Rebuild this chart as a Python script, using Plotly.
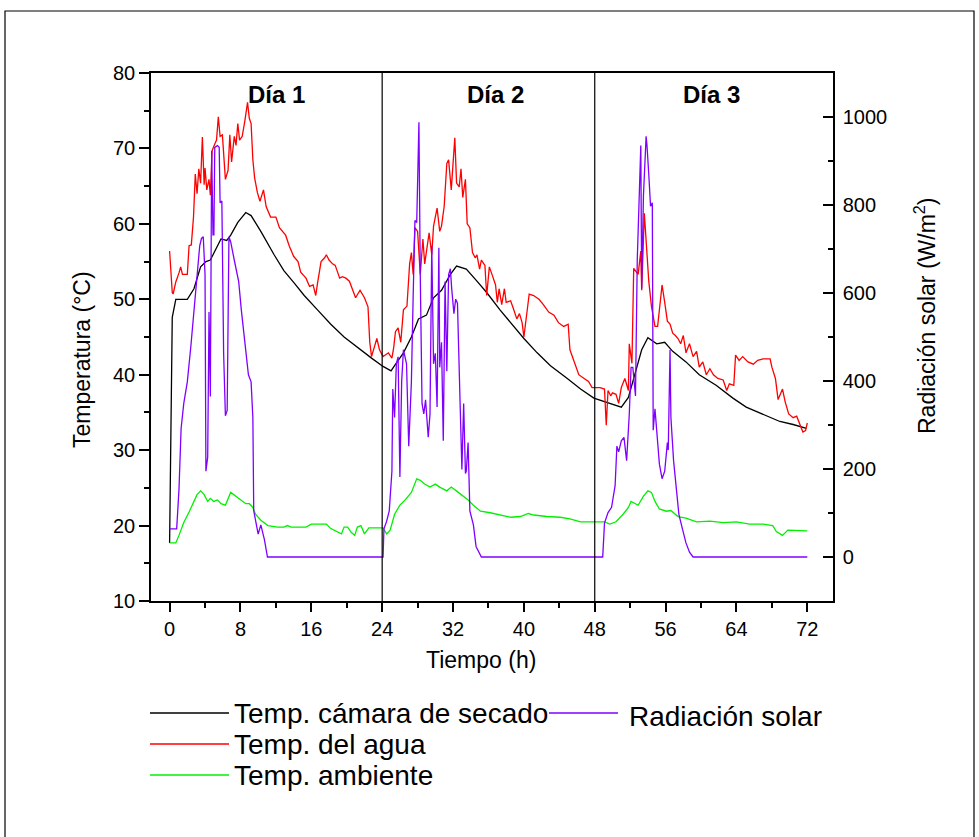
import plotly.graph_objects as go

# ---------------- data ----------------
t_camara = [0, 0.3, 0.7, 2.0, 2.75, 3.5, 4.1, 4.6, 5.2, 5.8, 6.45, 6.9, 7.7, 8.6, 9.2, 10.3, 11.8, 12.9,
            14.1, 15.2, 16.7, 18.2, 19.7, 21.2, 22.8, 24.1, 25.0, 25.4, 26.4, 27.3, 28.1, 29.0, 29.8,
            30.7, 31.7, 32.4, 33.5, 34.7, 35.8, 37.3, 38.8, 40.0, 41.5, 43.0, 44.9, 46.4, 47.9, 48.9,
            50.0, 51.0, 51.8, 52.5, 53.3, 54.0, 55.0, 55.9, 56.8, 58.3, 59.8, 61.7, 63.6, 65.1, 67.0,
            68.9, 70.4, 71.9]
camara = [17.7, 47.6, 50.0, 50.0, 51.4, 54.3, 55.0, 55.2, 56.6, 58.0, 57.8, 58.5, 60.2, 61.5, 61.1, 59.0,
          55.9, 53.8, 52.1, 50.5, 48.6, 46.7, 45.0, 43.6, 42.2, 41.1, 40.5, 41.2, 42.9, 45.0, 47.4, 47.9,
          50.2, 51.2, 53.3, 54.4, 54.0, 52.4, 50.9, 48.6, 46.4, 44.8, 42.9, 41.2, 39.5, 38.1, 36.9, 36.5,
          36.0, 35.7, 37.0, 40.0, 43.3, 44.9, 44.1, 44.3, 43.1, 41.7, 40.0, 38.6, 36.9, 35.7, 34.8, 33.8,
          33.4, 32.9]

t_agua = [0, 0.3, 0.4, 0.7, 1.06, 1.25, 1.45, 1.8, 2.0, 2.2, 2.45, 2.7, 2.9, 3.1, 3.3, 3.5, 3.7, 3.9, 4.0,
          4.2, 4.45, 4.6, 4.8, 5.1, 5.3, 5.5, 5.7, 5.96, 6.15, 6.3, 6.6, 6.8, 7.0, 7.3, 7.5, 7.7, 7.9,
          8.2, 8.5, 8.8, 9.0, 9.2, 9.4, 9.6, 9.9, 10.2, 10.6, 10.9, 11.4, 12.0, 12.4, 12.8, 13.1, 13.5,
          14.0, 14.5, 14.8, 15.4, 15.8, 16.2, 16.5, 16.7, 17.1, 17.5, 17.7, 18.0, 18.4, 18.7, 19.2, 19.5,
          19.9, 20.3, 20.7, 21.0, 21.5, 22.0, 22.4, 22.6, 22.8, 23.1, 23.4, 23.7, 24.1, 24.7, 25.1, 25.3,
          25.5, 25.8, 26.1, 26.4, 26.8, 27.1, 27.3, 27.5, 27.7, 28.0, 28.3, 28.6, 28.8, 29.3, 29.6, 29.8,
          30.2, 30.5, 30.7, 31.0, 31.3, 31.5, 31.8, 32.2, 32.4, 32.7, 32.9, 33.1, 33.4, 33.6, 33.9, 34.2,
          34.5, 34.7, 35.0, 35.2, 35.6, 35.8, 36.1, 36.4, 36.8, 37.0, 37.2, 37.5, 37.8, 38.0, 38.5, 38.8,
          39.2, 39.5, 39.8, 40.0, 40.3, 40.6, 41.1, 41.7, 42.2, 42.8, 43.4, 43.9, 44.5, 45.0, 45.2, 45.6,
          46.2, 46.8, 47.3, 47.7, 48.1, 48.6, 49.1, 49.3, 49.5, 49.8, 50.0, 50.4, 50.7, 51.0, 51.4, 51.8,
          51.9, 52.2, 52.4, 52.7, 52.9, 53.2, 53.3, 53.6, 53.8, 54.1, 54.4, 54.8, 55.1, 55.3, 55.6, 55.9,
          56.2, 56.5, 56.8, 57.1, 57.4, 57.7, 58.0, 58.3, 58.7, 59.1, 59.5, 59.8, 60.2, 60.6, 61.0, 61.4,
          61.9, 62.5, 62.9, 63.2, 63.7, 63.9, 64.3, 64.7, 65.3, 65.9, 66.4, 67.0, 67.8, 68.0, 68.4, 68.7,
          69.0, 69.2, 69.5, 69.9, 70.4, 70.8, 71.2, 71.5, 71.8, 72.0]
agua = [56.4, 50.9, 50.7, 52.3, 53.5, 54.3, 53.3, 53.3, 53.3, 57.1, 57.2, 60.9, 66.6, 64.0, 67.3, 65.4,
        71.5, 65.2, 67.4, 64.5, 65.9, 63.8, 69.7, 70.6, 71.1, 74.2, 71.6, 71.8, 68.5, 65.9, 67.1, 71.8,
        68.2, 71.6, 70.4, 73.3, 71.1, 71.6, 73.7, 76.1, 74.0, 73.3, 68.5, 66.1, 64.2, 63.0, 64.5, 62.3,
        60.9, 60.9, 59.5, 59.0, 58.5, 57.1, 55.7, 55.0, 53.6, 52.8, 51.7, 51.9, 50.5, 52.1, 55.0, 55.5,
        55.9, 55.2, 54.7, 54.5, 52.8, 53.0, 52.8, 52.4, 51.2, 50.2, 51.2, 50.2, 49.0, 44.3, 42.4, 43.8,
        44.8, 43.3, 42.4, 42.9, 42.2, 43.6, 45.7, 46.2, 44.3, 48.6, 49.1, 54.7, 56.2, 53.3, 59.5, 59.0,
        53.3, 58.0, 54.7, 58.8, 55.9, 59.7, 62.1, 59.0, 59.7, 62.3, 68.0, 68.5, 64.5, 71.4, 65.4, 64.9,
        67.3, 63.5, 65.9, 60.0, 59.5, 56.2, 55.5, 55.9, 54.0, 55.2, 54.5, 50.5, 54.3, 53.3, 51.9, 49.6,
        51.4, 49.3, 51.4, 49.6, 49.8, 48.8, 47.4, 48.1, 46.9, 45.0, 47.6, 50.7, 50.5, 50.0, 49.3, 48.3,
        47.9, 46.9, 46.4, 46.7, 43.3, 41.9, 40.0, 39.5, 39.1, 38.3, 38.3, 38.3, 38.1, 33.3, 37.9, 37.2,
        37.6, 37.4, 36.2, 38.3, 39.5, 37.9, 44.1, 41.5, 54.1, 53.6, 53.3, 56.4, 51.2, 61.4, 57.1, 52.4,
        49.1, 46.4, 46.4, 48.6, 51.9, 49.6, 47.1, 46.7, 45.5, 45.2, 44.8, 44.1, 45.2, 42.9, 44.1, 42.4,
        43.1, 41.0, 41.7, 40.0, 40.8, 40.0, 39.5, 39.3, 37.9, 38.8, 38.6, 42.6, 41.9, 42.4, 41.7, 41.4,
        41.9, 42.1, 42.1, 41.0, 39.5, 36.7, 37.6, 38.1, 36.4, 34.8, 34.3, 34.5, 33.3, 32.4, 32.6, 33.6]

t_amb = [0, 0.7, 1.06, 1.6, 2.2, 2.6, 3.1, 3.5, 3.9, 4.3, 4.6, 5.0, 5.4, 5.8, 6.3, 6.9, 7.5, 8.0, 8.6,
         9.0, 9.4, 9.7, 10.3, 11.1, 12.2, 12.9, 13.3, 13.7, 14.5, 15.4, 16.0, 16.7, 17.7, 18.2, 19.0,
         19.4, 19.7, 20.1, 20.5, 20.9, 21.2, 21.6, 22.0, 22.5, 23.1, 24.1, 24.5, 24.9, 25.4, 26.0, 26.6,
         27.3, 27.9, 28.3, 28.8, 29.4, 30.0, 30.5, 31.3, 31.8, 32.6, 33.2, 33.7, 34.3, 35.1, 36.2, 37.3,
         38.5, 39.6, 40.5, 41.1, 42.6, 44.1, 45.2, 46.4, 47.9, 49.1, 49.7, 50.4, 51.2, 51.8, 52.1, 52.9,
         53.5, 54.0, 54.4, 54.8, 55.3, 56.1, 56.6, 57.4, 58.3, 59.5, 61.0, 62.5, 64.0, 65.5, 67.0, 68.1,
         68.5, 69.2, 69.8, 70.7, 72.0]
ambiente = [17.7, 17.7, 18.7, 20.4, 21.8, 22.9, 24.1, 24.6, 24.1, 23.2, 23.6, 23.2, 23.4, 22.9, 22.7,
            24.4, 23.9, 23.4, 22.9, 22.9, 22.4, 21.5, 20.7, 20.0, 19.8, 19.8, 20.0, 19.8, 19.8, 19.8,
            20.2, 20.2, 20.2, 19.6, 19.1, 18.9, 19.8, 19.8, 19.1, 18.7, 19.8, 20.0, 18.9, 19.7, 19.7,
            19.7, 18.9, 19.4, 21.5, 22.7, 23.4, 24.4, 26.2, 26.0, 25.5, 25.1, 25.5, 25.1, 24.6, 25.1,
            24.4, 23.9, 23.4, 22.7, 21.9, 21.7, 21.4, 21.1, 21.2, 21.6, 21.4, 21.2, 21.1, 20.9, 20.5,
            20.5, 20.5, 20.2, 20.5, 21.5, 22.4, 23.2, 22.7, 23.9, 24.6, 24.4, 23.2, 22.2, 21.9, 22.0,
            21.2, 21.0, 20.5, 20.6, 20.4, 20.5, 20.2, 20.2, 20.0, 19.2, 18.7, 19.4, 19.4, 19.3]

t_rad = [0, 0.8, 1.06, 1.3, 1.6, 2.0, 2.4, 2.75, 3.1, 3.4, 3.6, 3.8, 4.0, 4.1, 4.3, 4.45, 4.6, 4.75, 4.9,
         5.0, 5.1, 5.4, 5.6, 5.7, 5.9, 6.1, 6.3, 6.5, 6.7, 6.9, 7.3, 7.8, 8.1, 8.5, 8.9, 9.2, 9.4, 9.5,
         9.8, 10.0, 10.3, 10.7, 11.05, 24.1, 24.2, 24.5, 24.8, 25.1, 25.2, 25.4, 25.6, 25.8, 26.0, 26.2,
         26.4, 26.6, 26.75, 27.0, 27.3, 27.5, 27.7, 27.9, 28.15, 28.3, 28.5, 28.7, 28.9, 29.2, 29.4,
         29.6, 29.8, 30.0, 30.2, 30.4, 30.5, 30.7, 30.9, 31.1, 31.3, 31.5, 31.7, 31.85, 32.1, 32.3,
         32.5, 32.8, 33.0, 33.2, 33.4, 33.5, 33.7, 33.9, 34.3, 34.6, 34.9, 35.2, 48.9, 49.1, 49.5,
         49.9, 50.3, 50.5, 50.7, 51.0, 51.3, 51.6, 51.9, 52.1, 52.3, 52.6, 52.8, 53.0, 53.2, 53.3,
         53.5, 53.8, 53.9, 54.1, 54.3, 54.5, 54.6, 54.8, 55.0, 55.1, 55.3, 55.6, 55.9, 56.2, 56.3,
         56.5, 56.6, 56.9, 57.2, 57.5, 57.9, 58.3, 58.7, 59.1, 72.0]
radiacion = [64, 64, 154, 292, 349, 398, 479, 561, 642, 707, 724, 728, 642, 195, 227, 557, 365, 923, 732,
             732, 931, 935, 931, 805, 809, 463, 321, 333, 728, 716, 675, 626, 561, 479, 414, 398, 317,
             105, 73, 52, 73, 40, 0, 0, 64, 81, 105, 195, 382, 317, 439, 455, 182, 398, 471, 455, 439,
             252, 398, 594, 765, 760, 988, 642, 349, 325, 357, 272, 325, 707, 439, 463, 341, 703, 431,
             488, 264, 626, 422, 642, 655, 610, 553, 586, 577, 349, 199, 349, 190, 195, 260, 105, 73,
             24, 11, 0, 0, 77, 101, 113, 162, 252, 239, 264, 272, 219, 325, 431, 431, 366, 675, 822,
             935, 610, 822, 956, 935, 870, 797, 805, 288, 337, 284, 252, 211, 178, 195, 260, 243, 471,
             317, 219, 154, 97, 64, 32, 11, 0, 0]

x_ticks = [0, 8, 16, 24, 32, 40, 48, 56, 64, 72]
y_ticks = [10, 20, 30, 40, 50, 60, 70, 80]
y2_ticks = [0, 200, 400, 600, 800, 1000]
day_labels = ["Día 1", "Día 2", "Día 3"]
day_label_x = [12.1, 36.75, 61.2]
day_bounds = [24, 48]
series_names = ["Temp. cámara de secado", "Temp. del agua", "Temp. ambiente", "Radiación solar"]

# ---------------- layout geometry (pixels) ----------------
W, H = 979, 837
L, R, T, B = 151, 833, 73, 601
FONT = "Liberation Sans, Arial, sans-serif"


def px(x):
    return (x - L) / (R - L)


def py(y):
    return (B - y) / (B - T)


C_BLACK, C_RED, C_GREEN, C_PURPLE = "#000000", "#ff0000", "#00f000", "#8000ff"
LW = 1.3

fig = go.Figure()
fig.add_trace(go.Scatter(x=t_camara, y=camara, mode="lines", line=dict(color=C_BLACK, width=LW),
                         name=series_names[0], showlegend=False))
fig.add_trace(go.Scatter(x=t_agua, y=agua, mode="lines", line=dict(color=C_RED, width=LW),
                         name=series_names[1], showlegend=False))
fig.add_trace(go.Scatter(x=t_amb, y=ambiente, mode="lines", line=dict(color=C_GREEN, width=LW),
                         name=series_names[2], showlegend=False))
fig.add_trace(go.Scatter(x=t_rad, y=radiacion, mode="lines", line=dict(color=C_PURPLE, width=LW),
                         name=series_names[3], showlegend=False, yaxis="y2"))

shapes = []
# outer frame
shapes.append(dict(type="rect", xref="paper", yref="paper", x0=px(5), x1=px(974), y0=py(850), y1=py(11),
                   line=dict(color="#000000", width=1.2), fillcolor="rgba(0,0,0,0)", layer="below"))
# day separators
for d in day_bounds:
    shapes.append(dict(type="line", xref="x", yref="paper", x0=d, x1=d, y0=0, y1=1,
                       line=dict(color="#000000", width=1.2)))

annotations = []
for lab, xx in zip(day_labels, day_label_x):
    annotations.append(dict(x=xx, y=py(95), xref="x", yref="paper", text="<b>" + lab + "</b>",
                            showarrow=False, font=dict(family=FONT, size=24, color="#000"),
                            xanchor="center", yanchor="middle"))

# axis titles
annotations.append(dict(x=px(481), y=py(660), xref="paper", yref="paper", text="Tiempo (h)",
                        showarrow=False, font=dict(family=FONT, size=23, color="#000"),
                        xanchor="center", yanchor="middle"))
annotations.append(dict(x=px(82), y=py(360), xref="paper", yref="paper", text="Temperatura (°C)",
                        showarrow=False, textangle=-90, font=dict(family=FONT, size=23, color="#000"),
                        xanchor="center", yanchor="middle"))
annotations.append(dict(x=px(925), y=py(316), xref="paper", yref="paper",
                        text="Radiación solar (W/m<sup>2</sup>)",
                        showarrow=False, textangle=-90, font=dict(family=FONT, size=23, color="#000"),
                        xanchor="center", yanchor="middle"))

# manual legend
leg_rows = [(series_names[0], C_BLACK, 150, 229, 713, 232),
            (series_names[1], C_RED, 150, 229, 744, 232),
            (series_names[2], C_GREEN, 150, 229, 775, 232),
            (series_names[3], C_PURPLE, 549, 618, 713, 627)]
for name, col, x0, x1, yy, xt in leg_rows:
    shapes.append(dict(type="line", xref="paper", yref="paper", x0=px(x0), x1=px(x1), y0=py(yy), y1=py(yy),
                       line=dict(color=col, width=LW)))
    annotations.append(dict(x=px(xt), y=py(yy + (3 if col == C_PURPLE else 0)), xref="paper", yref="paper",
                            text=name, showarrow=False, font=dict(family=FONT, size=28, color="#000"),
                            xanchor="left", yanchor="middle"))

axis_common = dict(showline=True, linecolor="#000000", linewidth=1.5, showgrid=False, zeroline=False,
                   tickcolor="#000000", tickwidth=1.5, tickfont=dict(family=FONT, size=20, color="#000"))

fig.update_layout(
    width=W, height=H,
    margin=dict(l=L, r=W - R, t=T, b=H - B, pad=0),
    paper_bgcolor="#ffffff", plot_bgcolor="#ffffff",
    showlegend=False,
    xaxis=dict(range=[-2.1, 74.9], tickmode="array", tickvals=x_ticks, ticks="outside", ticklen=9,
               mirror=True, minor=dict(dtick=4, tick0=0, ticks="outside", ticklen=5, tickcolor="#000",
                                       tickwidth=1.5),
               **axis_common),
    yaxis=dict(range=[10, 80], tickmode="array", tickvals=y_ticks, ticks="outside", ticklen=10,
               minor=dict(dtick=5, tick0=0, ticks="outside", ticklen=5, tickcolor="#000", tickwidth=1.5),
               **axis_common),
    yaxis2=dict(range=[-100, 1100], overlaying="y", side="right", tickmode="array", tickvals=y2_ticks,
                ticks="inside", ticklen=10,
                minor=dict(dtick=100, tick0=0, ticks="inside", ticklen=5, tickcolor="#000", tickwidth=1.5),
                ticklabelstandoff=4, **axis_common),
    shapes=shapes,
    annotations=annotations,
)

fig.write_html("out.html")
